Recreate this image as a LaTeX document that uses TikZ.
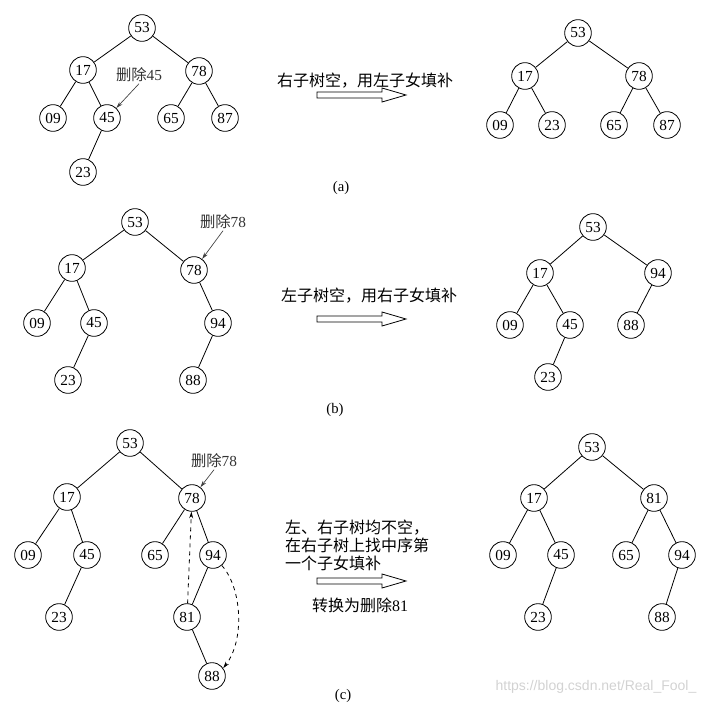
\documentclass[tikz,border=0pt]{standalone}
\usepackage{fontspec}
\setmainfont{Liberation Serif}
\newfontfamily\cjk{Noto Sans CJK SC}
\newfontfamily\wmfont{Liberation Sans}
\usetikzlibrary{arrows.meta}

\begin{document}
\begin{tikzpicture}[x=0.75pt,y=-0.75pt,
    nd/.style={circle,draw,line width=0.6pt,minimum size=20pt,inner sep=0pt,font=\fontsize{11.5}{12}\selectfont},
    ed/.style={line width=0.6pt},
    txt/.style={font=\fontsize{12}{13.5}\selectfont\cjk,inner sep=0pt},
    lbl/.style={font=\fontsize{11.5}{12}\selectfont,inner sep=1pt,text=gray!40!black},
    ptr/.style={gray!50!black,line width=0.5pt,-{Stealth[length=5pt,width=3pt]}},
    dsh/.style={dashed,line width=0.6pt,-{Stealth[length=5pt,width=3pt]}}]
    \useasboundingbox (0,0) rectangle (720,713);
    % (a) arvore original
    \foreach \n/\x/\y in {53/142/28, 17/83/70, 78/199/71, 09/53/118, 45/107/118, 65/171/118, 87/225/118, 23/83/172}
        \node[nd] (aL\n) at (\x,\y) {\n};
    \foreach \u/\v in {53/17, 53/78, 17/09, 17/45, 45/23, 78/65, 78/87}
        \draw[ed] (aL\u) -- (aL\v);
    \node[lbl] (aLdel) at (139,75) {{\cjk 删除}45};
    \draw[ptr] (aLdel.south) -- (aL45);
    % (a) resultado
    \foreach \n/\x/\y in {53/578/33, 17/525/76, 78/639/76, 09/500/125, 23/552/125, 65/614/125, 87/667/125}
        \node[nd] (aR\n) at (\x,\y) {\n};
    \foreach \u/\v in {53/17, 53/78, 17/09, 17/23, 78/65, 78/87}
        \draw[ed] (aR\u) -- (aR\v);
    % (b) arvore original
    \foreach \n/\x/\y in {53/135/222, 17/72/268, 78/194/270, 09/37/323, 45/94/323, 94/218/323, 23/68/380, 88/193/380}
        \node[nd] (bL\n) at (\x,\y) {\n};
    \foreach \u/\v in {53/17, 53/78, 17/09, 17/45, 45/23, 78/94, 94/88}
        \draw[ed] (bL\u) -- (bL\v);
    \node[lbl] (bLdel) at (223,222) {{\cjk 删除}78};
    \draw[ptr] (bLdel.south) -- (bL78);
    % (b) resultado
    \foreach \n/\x/\y in {53/593/227, 17/540/273, 94/658/273, 09/510/325, 45/570/325, 88/631/325, 23/548/377}
        \node[nd] (bR\n) at (\x,\y) {\n};
    \foreach \u/\v in {53/17, 53/94, 17/09, 17/45, 45/23, 94/88}
        \draw[ed] (bR\u) -- (bR\v);
    % (c) arvore original
    \foreach \n/\x/\y in {53/130/443, 17/67/497, 78/192/498, 09/28/555, 45/87/555, 65/155/555, 94/213/555, 23/59/617, 81/187/617, 88/212/676}
        \node[nd] (cL\n) at (\x,\y) {\n};
    \foreach \u/\v in {53/17, 53/78, 17/09, 17/45, 45/23, 78/65, 78/94, 94/81, 81/88}
        \draw[ed] (cL\u) -- (cL\v);
    \node[lbl] (cLdel) at (214,461) {{\cjk 删除}78};
    \draw[ptr] (cLdel.south) -- (cL78);
    \draw[dsh] (cL81) -- (cL78);
    \draw[dsh] (cL94.-50) .. controls (242,588) and (245,640) .. (cL88.35);
    % (c) resultado
    \foreach \n/\x/\y in {53/592/447, 17/534/498, 81/654/498, 09/503/555, 45/561/555, 65/626/555, 94/682/555, 23/538/617, 88/662/617}
        \node[nd] (cR\n) at (\x,\y) {\n};
    \foreach \u/\v in {53/17, 53/81, 17/09, 17/45, 45/23, 81/65, 81/94, 94/88}
        \draw[ed] (cR\u) -- (cR\v);
    % setas vazadas
    \foreach \yc in {95,319,581}
        \draw[ed] (317,\yc-3) -- (382,\yc-3) -- (382,\yc-7) -- (406,\yc) -- (382,\yc+7) -- (382,\yc+3) -- (317,\yc+3) -- cycle;
    % textos
    \node[txt] (aTxt) at (365,81) {右子树空，用左子女填补};
    \node[txt] (bTxt) at (369,296) {左子树空，用右子女填补};
    \node[txt,align=left] (cTxt) at (357,545) {左、右子树均不空，\\在右子树上找中序第\\一个子女填补};
    \node[txt] (cTxt2) at (360,605) {转换为删除{\rmfamily 81}};
    \node[font=\fontsize{11}{12}\selectfont] (capA) at (341,188) {(a)};
    \node[font=\fontsize{11}{12}\selectfont] (capB) at (335,410) {(b)};
    \node[font=\fontsize{11}{12}\selectfont] (capC) at (343,696) {(c)};
    \node[font=\fontsize{10.5}{12}\wmfont,text=gray!35] (wm) at (596,687) {https://blog.csdn.net/Real\_Fool\_};
\end{tikzpicture}
\end{document}
